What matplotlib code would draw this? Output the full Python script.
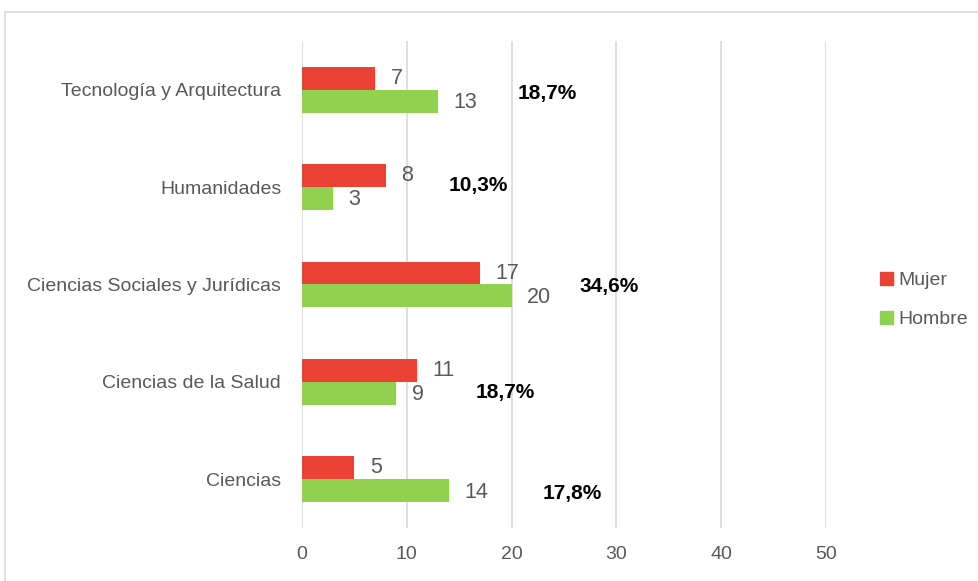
import matplotlib
matplotlib.use("Agg")
import matplotlib.pyplot as plt
from matplotlib.patches import Rectangle, Patch
import numpy as np

# ======================
# DATA
# ======================
categories = ["Ciencias", "Ciencias de la Salud", "Ciencias Sociales y Jurídicas",
              "Humanidades", "Tecnología y Arquitectura"]
mujer = [5, 11, 17, 8, 7]
hombre = [14, 9, 20, 3, 13]
pct_labels = ["17,8%", "18,7%", "34,6%", "10,3%", "18,7%"]

# layout for the bold percent labels (data coords)
pct_x = [25.8, 19.4, 29.3, 16.8, 23.4]
pct_dy = [-0.13, -0.09, 0.0, 0.04, -0.02]

# ======================
# STYLE
# ======================
plt.rcParams['font.family'] = ['Liberation Sans', 'DejaVu Sans']
red = "#EA4335"
green = "#92D050"
gray_txt = "#595959"
grid_c = "#D9D9D9"

fig = plt.figure(figsize=(9.79, 5.81), dpi=100)
ax = fig.add_axes([302/979, 1 - 528/581, (826 - 302)/979, (528 - 41)/581])

y = np.arange(len(categories))
h = 0.236

ax.barh(y + h/2, mujer, height=h, color=red, label="Mujer", zorder=3)
ax.barh(y - h/2, hombre, height=h, color=green, label="Hombre", zorder=3)

# value labels
for i in range(len(categories)):
    ax.annotate(str(mujer[i]), (mujer[i], y[i] + h/2), xytext=(11, 0),
                textcoords="offset points", va="center", ha="left",
                fontsize=15.5, color=gray_txt)
    ax.annotate(str(hombre[i]), (hombre[i], y[i] - h/2), xytext=(11, -1),
                textcoords="offset points", va="center", ha="left",
                fontsize=15.5, color=gray_txt)
    ax.text(pct_x[i], y[i] + pct_dy[i] - 0.02, pct_labels[i], ha="center", va="center",
            fontsize=15, fontweight="bold", color="black")

ax.set_xlim(0, 50)
ax.set_ylim(-0.5, len(categories) - 0.5)
ax.set_xticks([0, 10, 20, 30, 40, 50])
ax.set_yticks(y)
ax.set_yticklabels(categories)
ax.tick_params(axis="both", length=0, labelsize=14, labelcolor=gray_txt)
ax.tick_params(axis="y", pad=15)
ax.tick_params(axis="x", pad=13)
ax.xaxis.grid(True, color=grid_c, linewidth=1.2, zorder=0)
for s in ax.spines.values():
    s.set_visible(False)

# legend
handles = [Patch(color=red, label="Mujer"), Patch(color=green, label="Hombre")]
fig.legend(handles=handles, loc="center left", bbox_to_anchor=(862/979, 1 - 300/581),
           frameon=False, fontsize=14, labelcolor=gray_txt, handlelength=0.7,
           handleheight=0.7, handletextpad=0.25, labelspacing=1.1)

# chart border (cut off at right and bottom)
fig.patches.append(Rectangle((5/979, -0.1), 1.2, 1 - 12/581 + 0.1,
                             transform=fig.transFigure, fill=False,
                             edgecolor=grid_c, linewidth=1.2))

fig.savefig("out.png", dpi=100)
